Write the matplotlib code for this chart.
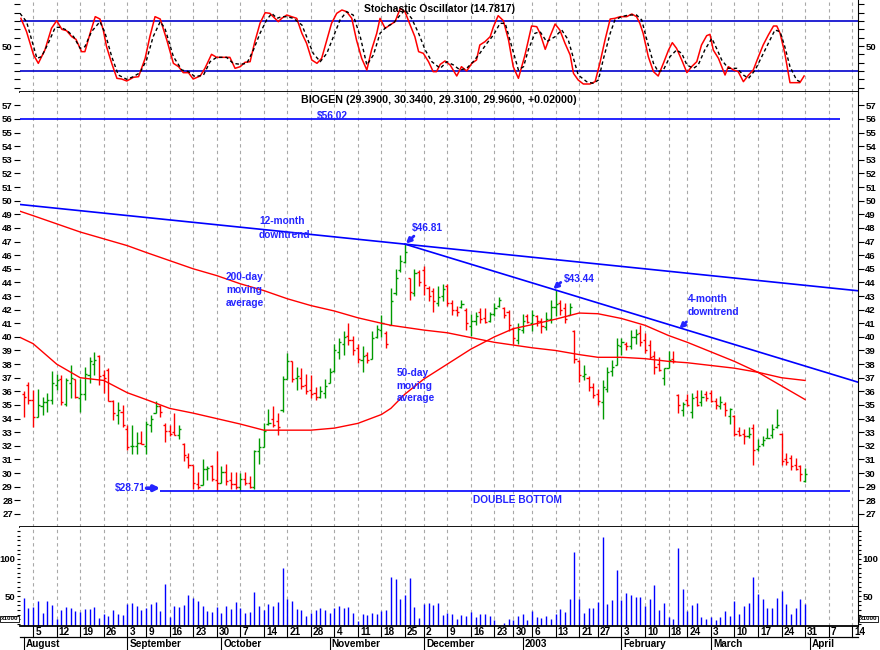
import matplotlib
matplotlib.use("Agg")
import matplotlib.pyplot as plt
import numpy as np
from matplotlib.ticker import MultipleLocator

plt.rcParams["font.family"] = ["Liberation Sans", "DejaVu Sans"]
plt.rcParams["font.weight"] = "bold"
plt.rcParams["font.size"] = 6.5

# ---- daily OHLC, Aug 1 2002 .. Mar 31 2003 (trading days) ----
opens = [35.8, 36.5, 35.4, 34.1, 34.9, 35.2, 35.4, 36.5, 36.9, 35.1,
         36.6, 36.9, 35.5, 35.8, 37.2, 38.0, 38.6, 37.2, 37.6, 35.3,
         34.3, 34.5, 33.2, 32.0, 32.0, 32.2, 32.0, 33.5, 34.4, 34.9,
         33.5, 33.1, 33.0, 32.8, 32.1, 31.2, 30.6, 29.2, 29.1, 30.3,
         30.5, 29.5, 29.3, 30.1, 29.5, 29.2, 29.0, 29.6, 29.3, 29.0,
         31.6, 31.9, 33.6, 34.0, 33.8, 34.6, 36.9, 38.2, 37.0, 37.0,
         36.5, 36.1, 35.9, 35.6, 35.9, 36.6, 37.5, 38.9, 39.5, 40.1,
         39.8, 39.2, 38.3, 38.7, 38.4, 40.0, 40.5, 40.3, 40.9, 43.2,
         44.9, 45.5, 44.3, 43.2, 44.8, 44.9, 43.6, 43.4, 42.5, 43.0,
         43.7, 42.5, 42.0, 42.2, 42.0, 40.8, 41.2, 41.8, 41.4, 41.2,
         41.7, 42.3, 42.1, 41.8, 40.6, 39.8, 40.5, 41.5, 41.0, 41.5,
         41.2, 40.7, 41.3, 42.2, 42.5, 42.1, 41.6, 40.4, 38.2, 37.1,
         37.0, 36.3, 35.8, 35.2, 36.2, 37.5, 37.9, 39.3, 39.5, 39.3,
         40.0, 40.3, 39.8, 39.4, 38.6, 38.0, 37.0, 37.7, 38.4, 35.7,
         34.6, 35.4, 34.5, 35.6, 35.2, 35.8, 35.9, 35.3, 34.9, 35.1,
         34.2, 34.2, 33.1, 32.9, 32.7, 33.3, 31.8, 32.1, 32.6, 32.8,
         33.4, 32.9, 31.0, 31.1, 30.6, 30.5, 29.39]
highs = [36.0, 36.7, 36.1, 36.2, 35.6, 35.9, 37.5, 37.3, 37.2, 37.0,
         37.9, 36.9, 36.9, 37.8, 38.5, 38.9, 38.7, 37.6, 37.7, 35.4,
         35.2, 35.0, 33.5, 33.5, 33.0, 33.1, 33.8, 34.3, 35.3, 35.0,
         33.7, 33.5, 34.4, 33.5, 32.2, 31.5, 30.6, 30.1, 31.0, 30.5,
         30.6, 31.6, 30.5, 30.7, 30.1, 30.1, 30.0, 30.1, 29.8, 31.7,
         32.6, 33.7, 34.7, 34.9, 34.4, 37.1, 38.8, 38.2, 37.8, 37.7,
         37.3, 37.2, 36.3, 36.4, 36.9, 37.7, 39.5, 39.9, 40.4, 41.0,
         40.1, 39.5, 39.3, 38.9, 40.4, 40.9, 41.6, 40.4, 43.6, 45.0,
         46.0, 46.81, 44.3, 45.0, 44.9, 45.2, 43.7, 43.57, 43.7, 43.9,
         43.9, 42.7, 42.3, 42.7, 42.1, 41.7, 41.85, 42.1, 42.1, 41.85,
         42.5, 42.96, 42.2, 42.0, 40.75, 41.0, 41.7, 41.7, 42.0, 41.6,
         41.4, 41.85, 42.7, 43.44, 42.7, 42.5, 42.5, 40.5, 38.3, 37.9,
         37.1, 36.6, 36.2, 36.8, 37.8, 38.3, 39.9, 39.9, 39.65, 40.5,
         40.6, 40.9, 40.3, 39.8, 38.96, 38.5, 37.7, 38.96, 38.96, 35.8,
         35.2, 35.8, 35.9, 36.1, 36.1, 36.0, 36.1, 35.5, 35.65, 35.2,
         34.8, 34.3, 33.4, 33.2, 33.4, 33.6, 32.5, 32.7, 33.3, 33.6,
         34.7, 32.95, 31.5, 31.35, 31.1, 30.6, 30.34]
lows = [34.1, 35.1, 33.4, 34.1, 34.3, 34.5, 35.1, 36.1, 35.0, 34.9,
        35.5, 35.5, 34.5, 35.4, 36.6, 37.2, 36.5, 35.9, 35.3, 33.9,
        33.6, 33.4, 31.7, 31.4, 31.4, 32.1, 31.4, 33.0, 34.4, 34.1,
        32.3, 32.7, 32.8, 32.5, 30.9, 30.4, 28.8, 28.8, 29.1, 29.5,
        29.4, 28.71, 29.3, 29.1, 28.8, 28.8, 28.71, 29.1, 28.9, 28.8,
        30.7, 31.9, 33.5, 33.4, 32.8, 34.5, 36.9, 36.7, 36.1, 36.2,
        35.8, 35.5, 35.4, 35.5, 35.5, 36.6, 37.4, 38.4, 38.7, 39.4,
        38.7, 38.1, 37.4, 38.1, 38.4, 39.9, 40.0, 39.2, 40.9, 43.1,
        44.8, 45.4, 42.7, 43.0, 43.7, 43.1, 42.6, 41.85, 42.3, 42.6,
        42.3, 41.6, 41.5, 42.1, 40.5, 40.1, 40.9, 41.0, 41.0, 41.1,
        41.5, 42.2, 41.36, 40.4, 39.5, 39.5, 40.3, 41.0, 40.4, 40.8,
        40.3, 40.5, 41.0, 41.5, 41.6, 41.0, 41.6, 38.1, 36.7, 36.8,
        36.0, 35.5, 35.0, 34.0, 35.97, 37.1, 37.9, 38.7, 39.0, 39.1,
        39.5, 39.3, 38.8, 38.35, 37.24, 37.5, 36.5, 37.7, 38.1, 34.4,
        34.2, 34.9, 34.06, 34.9, 34.9, 35.3, 35.2, 34.7, 34.7, 34.2,
        33.57, 32.7, 32.7, 32.1, 32.6, 30.6, 31.6, 32.0, 32.6, 32.6,
        33.3, 30.6, 30.6, 30.26, 30.26, 29.4, 29.31]
closes = [35.6, 35.4, 34.1, 35.0, 35.2, 35.4, 36.6, 36.8, 35.2, 36.8,
          37.0, 35.6, 35.8, 37.3, 38.2, 38.3, 37.1, 37.0, 35.3, 34.4,
          34.6, 33.5, 31.9, 32.0, 32.2, 32.1, 33.6, 34.0, 34.9, 34.5,
          33.1, 32.9, 32.8, 33.2, 31.3, 30.6, 29.3, 29.0, 30.3, 30.4,
          29.6, 29.3, 30.1, 29.4, 29.2, 29.0, 29.6, 29.3, 29.0, 31.6,
          31.9, 33.1, 33.7, 33.5, 33.4, 36.9, 38.2, 36.9, 37.1, 36.4,
          36.0, 35.8, 35.6, 36.0, 36.4, 37.4, 39.0, 39.6, 40.0, 39.8,
          39.0, 38.4, 38.6, 38.3, 39.9, 40.6, 41.0, 39.5, 42.6, 44.3,
          45.6, 46.2, 43.3, 44.7, 44.0, 43.8, 43.0, 42.6, 42.9, 43.5,
          42.5, 42.0, 41.8, 42.4, 41.0, 41.2, 41.5, 41.3, 41.1, 41.7,
          42.1, 42.7, 41.6, 40.9, 39.9, 40.6, 41.2, 41.1, 41.6, 41.2,
          40.8, 41.3, 42.2, 42.4, 42.0, 41.3, 42.2, 38.4, 37.2, 37.3,
          36.3, 35.7, 35.3, 36.3, 37.4, 37.8, 39.4, 39.6, 39.3, 40.0,
          40.2, 39.6, 39.0, 38.5, 37.8, 37.6, 37.7, 38.3, 38.2, 35.0,
          35.1, 35.0, 35.5, 35.0, 35.6, 35.5, 35.3, 35.0, 35.2, 34.6,
          34.7, 32.9, 32.8, 32.7, 32.9, 31.7, 32.0, 32.4, 32.6, 33.2,
          33.5, 30.9, 30.8, 30.5, 30.3, 29.94, 29.96]
# volume (x1000)
volume = [46.8, 33.3, 35.6, 43.2, 26.6, 43.2, 37.8, 18.9, 31.1, 34.7,
          33.3, 29.3, 27.9, 32.0, 32.0, 34.7, 20.7, 25.2, 23.0, 31.1,
          25.2, 24.3, 38.7, 40.1, 36.5, 31.1, 33.3, 38.7, 41.9, 29.7,
          65.8, 21.2, 36.0, 34.7, 37.8, 50.9, 46.8, 43.2, 36.0, 29.3,
          28.4, 34.7, 26.6, 36.0, 32.4, 41.4, 33.8, 26.6, 27.9, 55.0,
          36.0, 31.1, 39.2, 36.0, 41.9, 87.4, 45.5, 43.2, 32.0, 31.1,
          23.0, 27.0, 31.1, 33.3, 31.1, 26.6, 33.3, 36.0, 33.3, 34.7,
          26.6, 16.2, 25.7, 23.9, 26.6, 25.7, 29.7, 31.1, 75.2, 72.5,
          46.0, 51.3, 73.9, 34.7, 20.3, 38.7, 40.1, 37.8, 40.1, 24.3,
          26.6, 25.2, 18.9, 24.3, 23.0, 27.9, 21.2, 25.2, 25.2, 23.0,
          17.6, 9.0, 13.1, 18.5, 17.6, 23.0, 25.2, 17.6, 29.7, 21.2,
          20.7, 23.0, 18.9, 25.7, 32.0, 27.9, 45.5, 109.0, 45.5, 26.6,
          33.3, 33.3, 41.9, 129.3, 39.2, 44.6, 85.1, 44.6, 53.6, 51.3,
          48.2, 49.1, 36.5, 45.5, 64.4, 31.1, 40.1, 21.2, 18.5, 114.4,
          59.5, 29.7, 37.8, 40.1, 21.2, 18.9, 22.1, 17.6, 22.1, 29.7,
          23.0, 43.2, 25.7, 36.5, 40.1, 75.2, 52.7, 46.0, 33.3, 33.3,
          46.8, 56.8, 38.7, 25.7, 33.3, 45.5, 38.7]

# moving averages, read weekly (bar index)
ma_idx = [-1, 2, 7, 12, 17, 22, 26, 31, 36, 41, 46, 51, 56, 61, 66, 71, 76, 78,
          81, 85, 90, 95, 100, 104, 108, 113, 118, 122, 127, 132, 137, 141, 146,
          151, 156, 161, 166]
ma200 = [49.25, 48.9, 48.3, 47.7, 47.2, 46.7, 46.2, 45.6, 45.0, 44.5, 43.9, 43.4,
         42.8, 42.3, 41.9, 41.4, 41.0, 40.85, 40.7, 40.5, 40.3, 39.95, 39.6, 39.4,
         39.2, 39.0, 38.7, 38.5, 38.5, 38.4, 38.2, 38.1, 37.9, 37.7, 37.4, 37.0, 36.8]
ma50 = [40.0, 39.5, 38.0, 37.0, 36.8, 35.9, 35.4, 34.75, 34.4, 34.0, 33.6, 33.15,
        33.15, 33.15, 33.3, 33.65, 34.3, 34.75, 35.8, 36.9, 38.0, 39.1, 40.0, 40.6,
        40.9, 41.3, 41.75, 41.7, 41.35, 40.85, 40.1, 39.6, 38.9, 38.2, 37.4, 36.4, 35.4]

# stochastic %K (red) and %D (dashed)
k_idx = [-0.6, 0.6, 2.1, 3.1, 4.5, 5.9, 7.0, 8.1, 9.1, 10.2, 11.1, 12.3, 13.0, 14.1,
         15.2, 16.2, 16.9, 17.6, 18.7, 19.8, 20.8, 21.9, 23.3, 24.4, 25.8, 26.8, 27.9,
         29.0, 30.4, 31.8, 32.9, 33.9, 35.0, 36.0, 37.5, 38.5, 39.9, 41.0, 42.1, 43.8,
         44.9, 46.0, 47.0, 48.1, 49.1, 50.2, 51.3, 52.3, 53.0, 54.1, 54.8, 55.9, 56.9,
         58.0, 59.1, 60.1, 61.2, 62.3, 63.3, 64.4, 65.4, 66.5, 67.6, 68.6, 69.7, 70.7,
         71.8, 72.9, 73.9, 75.0, 75.7, 76.8, 77.8, 78.9, 80.0, 81.0, 82.1, 83.1, 83.9,
         84.9, 86.0, 87.0, 87.7, 88.5, 89.5, 90.6, 92.0, 93.0, 94.1, 95.2, 96.2, 96.9,
         98.0, 99.1, 99.8, 100.8, 101.9, 103.0, 104.0, 105.1, 106.5, 107.9, 109.0,
         109.7, 110.8, 111.8, 112.9, 113.9, 115.0, 116.1, 116.8, 117.8, 118.9, 120.3,
         121.4, 122.4, 123.5, 124.6, 125.6, 126.7, 128.1, 129.2, 130.2, 130.9, 131.6,
         132.7, 133.8, 134.8, 135.9, 137.0, 137.8, 138.7, 139.8, 140.9, 141.9, 143.0,
         144.0, 145.1, 145.8, 146.5, 147.6, 149.0, 149.7, 150.8, 151.8, 152.9, 154.0,
         155.0, 156.1, 157.1, 158.2, 159.3, 160.0, 160.7, 161.7, 162.8, 163.9, 164.9,
         165.8]
k_val = [83.2, 67.2, 39.2, 29.2, 45.2, 71.2, 80.4, 70.0, 68.4, 61.2, 58.0, 43.2, 43.2,
         65.2, 85.2, 82.4, 69.2, 49.2, 29.2, 11.2, 10.4, 8.0, 12.4, 13.2, 35.2, 61.2,
         85.2, 82.4, 57.2, 29.2, 25.2, 18.0, 18.0, 10.4, 14.0, 23.2, 40.0, 36.4, 36.4,
         36.4, 23.2, 25.2, 30.4, 31.2, 55.2, 77.2, 90.0, 89.2, 85.2, 79.2, 83.2, 87.2,
         85.2, 83.2, 65.2, 53.2, 33.2, 29.2, 35.2, 57.2, 77.2, 89.2, 93.2, 91.2, 83.2,
         57.2, 35.2, 21.2, 45.2, 65.2, 83.2, 71.2, 75.2, 79.2, 95.2, 91.2, 75.2, 61.2,
         43.2, 41.2, 31.2, 19.2, 19.2, 28.0, 32.0, 27.2, 14.0, 25.2, 20.0, 29.2, 33.2,
         51.2, 55.2, 61.2, 73.2, 86.4, 80.4, 57.2, 25.2, 11.2, 39.2, 74.0, 73.2, 65.2,
         46.0, 61.2, 76.4, 69.2, 53.2, 39.2, 17.2, 9.2, 4.4, 4.4, 7.2, 29.2, 57.2, 82.4,
         83.2, 85.2, 85.2, 88.4, 85.2, 77.2, 65.2, 37.2, 19.2, 14.0, 29.2, 45.2, 54.0,
         47.2, 33.2, 18.0, 25.2, 31.2, 51.2, 62.4, 64.0, 45.2, 35.2, 15.2, 25.2, 21.2,
         19.2, 7.2, 15.2, 21.2, 37.2, 51.2, 63.2, 74.0, 74.0, 65.2, 41.2, 6.0, 6.0, 6.0,
         14.0]
d_idx = [-0.8, 0.6, 1.7, 2.8, 3.8, 5.2, 6.7, 7.7, 9.1, 10.6, 12.0, 13.0, 14.4, 16.2,
         17.3, 18.7, 20.1, 21.9, 23.3, 24.7, 26.1, 27.5, 29.0, 30.0, 31.8, 33.6, 35.0,
         36.4, 38.2, 39.6, 41.0, 43.1, 44.5, 46.0, 47.4, 48.8, 50.2, 51.6, 52.7, 53.8,
         54.8, 55.9, 57.3, 59.1, 60.1, 61.5, 63.0, 64.4, 65.8, 67.2, 68.6, 70.0, 71.5,
         72.9, 74.3, 75.7, 77.1, 78.5, 80.0, 81.0, 82.4, 83.9, 85.3, 86.7, 88.5, 89.9,
         91.3, 92.7, 94.1, 95.5, 96.9, 98.4, 99.8, 101.2, 102.3, 103.7, 105.1, 106.2,
         107.2, 108.6, 109.7, 111.1, 112.9, 114.3, 115.7, 116.8, 117.8, 119.6, 121.0,
         122.1, 123.1, 124.6, 125.6, 127.0, 128.5, 130.2, 131.3, 132.4, 133.8, 134.8,
         135.9, 137.3, 138.7, 139.8, 140.9, 142.3, 143.3, 144.7, 146.2, 147.2, 148.3,
         149.7, 151.5, 152.9, 154.0, 155.4, 156.8, 158.2, 159.6, 160.7, 161.7, 162.8,
         164.2, 164.9]
d_val = [89.2, 79.2, 57.2, 35.2, 37.2, 53.2, 72.4, 72.4, 69.2, 61.2, 47.2, 49.2, 67.2,
         79.2, 65.2, 37.2, 15.2, 10.0, 13.2, 18.0, 33.2, 61.2, 79.2, 71.2, 37.2, 21.2,
         19.2, 13.2, 15.2, 31.2, 36.4, 36.4, 29.2, 28.0, 29.2, 45.2, 65.2, 81.2, 89.2,
         83.2, 85.2, 85.2, 83.2, 75.2, 61.2, 41.2, 31.2, 41.2, 61.2, 81.2, 91.2, 87.2,
         61.2, 27.2, 39.2, 65.2, 73.2, 77.2, 87.2, 93.2, 83.2, 65.2, 45.2, 31.2, 23.2,
         31.2, 27.2, 21.2, 23.2, 31.2, 41.2, 53.2, 63.2, 77.2, 77.2, 49.2, 21.2, 25.2,
         45.2, 65.2, 67.2, 55.2, 61.2, 69.2, 57.2, 35.2, 15.2, 7.2, 5.2, 9.2, 33.2, 65.2,
         81.2, 85.2, 87.2, 87.2, 81.2, 57.2, 29.2, 19.2, 21.2, 37.2, 45.2, 41.2, 27.2,
         23.2, 27.2, 45.2, 59.2, 47.2, 33.2, 23.2, 23.2, 15.2, 11.2, 21.2, 37.2, 53.2,
         69.2, 67.2, 49.2, 25.2, 9.2, 7.2]

# calendar axis
week_idx = [2, 7, 12, 17, 22, 26, 31, 36, 41, 46, 51, 56, 61, 66, 71, 76, 81, 85, 90,
            95, 100, 104, 108, 113, 118, 122, 127, 132, 137, 141, 146, 151, 156, 161,
            166, 171, 176]
week_lbl = ['5', '12', '19', '26', '3', '9', '16', '23', '30', '7', '14', '21', '28',
            '4', '11', '18', '25', '2', '9', '16', '23', '30', '6', '13', '21', '27',
            '3', '10', '18', '24', '3', '10', '17', '24', '31', '7', '14']
month_idx = [0, 22, 42, 65, 85, 106, 127, 146, 167]
month_lbl = ['August', 'September', 'October', 'November', 'December', '2003',
             'February', 'March', 'April']

# key levels
resist = 56.02
support = 28.71
peak1 = (81, 46.81)
peak2 = (113, 43.44)
trend12_start = 49.72

GREEN = "#009a00"
RED = "#ff0000"
BLUE = "#0000ff"
TBLUE = "#2424ff"
GRID = "#a8a8a8"

W, H = 880, 650
fig = plt.figure(figsize=(8.8, 6.5), dpi=100)


def box(top, bottom):
    return [20 / W, 1 - bottom / H, 838 / W, (bottom - top) / H]


ax_st = fig.add_axes(box(0, 92))
ax_pr = fig.add_axes(box(92, 527))
ax_vo = fig.add_axes(box(527, 626))

x_lo, x_hi = -0.79, 177.25
for ax in (ax_st, ax_pr, ax_vo):
    ax.set_xlim(x_lo, x_hi)
    ax.set_xticks([])
    for w in week_idx:
        ax.axvline(w, color=GRID, lw=0.8, ls=(0, (3, 3)), zorder=0)
    ax.spines['left'].set_visible(False)
    ax.spines['top'].set_visible(False)
    ax.spines['right'].set_linewidth(0.8)
    ax.spines['bottom'].set_linewidth(1.3)
    ax.tick_params(axis='y', which='both', left=True, right=True,
                   labelleft=True, labelright=True, direction='out',
                   length=4, width=0.8, pad=1.2, labelsize=6.8)

# ---- stochastic ----
ax_st.set_ylim(-5.2, 105.2)
ax_st.set_yticks(range(0, 101, 10))
ax_st.set_yticklabels(['50' if v == 50 else '' for v in range(0, 101, 10)])
ax_st.axhline(80, color='#0000cc', lw=1.2)
ax_st.axhline(20, color='#0000cc', lw=1.2)
ax_st.plot(k_idx, k_val, color=RED, lw=1.1)
ax_st.plot(d_idx, d_val, color='black', lw=1.0, ls=(0, (2.5, 2)))
ax_st.text(0.5, 0.9, 'Stochastic Oscillator (14.7817)', transform=ax_st.transAxes,
           ha='center', va='center', fontsize=7.5)

# ---- price ----
o = np.array(opens); hi = np.array(highs); lo = np.array(lows); c = np.array(closes)
idx = np.arange(len(c))
prev = np.r_[o[0], c[:-1]]
col = np.where(c >= prev, GREEN, RED)
ax_pr.set_ylim(26.04, 57.98)
ax_pr.set_yticks(range(27, 58))
ax_pr.vlines(idx, lo, hi, colors=col, lw=1.0)
ax_pr.hlines(o, idx - 0.45, idx, colors=col, lw=1.0)
ax_pr.hlines(c, idx, idx + 0.45, colors=col, lw=1.0)

ax_pr.plot(ma_idx, ma200, color=RED, lw=1.0)
ax_pr.plot(ma_idx, ma50, color=RED, lw=1.0)

ax_pr.hlines(resist, x_lo, 173.5, color=BLUE, lw=1.2)
ax_pr.hlines(support, 29, 175.6, color=BLUE, lw=1.2)

# 12-month downtrend through the Nov peak, 4-month through both peaks
s12 = (peak1[1] - trend12_start) / (peak1[0] - x_lo)
ax_pr.plot([x_lo, x_hi], [trend12_start, trend12_start + s12 * (x_hi - x_lo)],
           color=BLUE, lw=1.2)
s4 = (peak2[1] - peak1[1]) / (peak2[0] - peak1[0])
ax_pr.plot([peak1[0], x_hi], [peak1[1], peak1[1] + s4 * (x_hi - peak1[0])],
           color=BLUE, lw=1.2)

ax_pr.text(0.5, 0.9816, 'BIOGEN (29.3900, 30.3400, 29.3100, 29.9600, +0.02000)',
           transform=ax_pr.transAxes, ha='center', va='center', fontsize=7.7)

arrow = dict(arrowstyle='-|>', color=TBLUE, lw=2.0, mutation_scale=7,
             shrinkA=0, shrinkB=0)
ax_pr.annotate('', xy=(81.2, 46.85), xytext=(82.9, 47.4), arrowprops=arrow)
ax_pr.annotate('', xy=(112.5, 43.5), xytext=(114.1, 44.0), arrowprops=arrow)
ax_pr.annotate('', xy=(139.3, 40.6), xytext=(140.8, 41.1), arrowprops=arrow)
ax_pr.annotate('', xy=(29.0, 28.89), xytext=(26.1, 28.89),
               arrowprops=dict(arrowstyle='-|>', color=TBLUE, lw=2.6,
                               mutation_scale=8, shrinkA=0, shrinkB=0))


def label(x, y, lines, ha='left', step=0.93):
    for k, t in enumerate(lines):
        ax_pr.text(x, y - k * step, t, color=TBLUE, fontsize=7.3, ha=ha, va='center')


label(65.5, 56.2, ['$56.02'], ha='center')
label(50.0, 48.49, ['12-month', 'downtrend'], step=0.98)
label(82.4, 47.96, ['$46.81'])
label(43.0, 44.37, ['200-day', 'moving', 'average'])
label(114.8, 44.28, ['$43.44'])
label(141.0, 42.79, ['4-month', 'downtrend'], step=0.98)
label(79.2, 37.34, ['50-day', 'moving', 'average'])
label(25.9, 28.89, ['$28.71'], ha='right')
label(104.8, 28.03, ['DOUBLE BOTTOM'], ha='center')

# ---- volume ----
ax_vo.set_ylim(9.5, 143.2)
ax_vo.set_yticks([50, 100])
ax_vo.yaxis.set_minor_locator(MultipleLocator(6.25))
ax_vo.tick_params(axis='y', which='both', length=2.5, pad=0.8)
ax_vo.vlines(idx, 9.5, volume, colors=BLUE, lw=1.0)

# date rows under the volume panel
tr = ax_vo.get_xaxis_transform()
ax_vo.plot([0, 1], [-0.111, -0.111], transform=ax_vo.transAxes, color='black',
           lw=0.9, clip_on=False)
for w, t in zip(week_idx, week_lbl):
    ax_vo.plot([w, w], [0, -0.111], transform=tr, color='black', lw=0.8, clip_on=False)
    ax_vo.text(w + 0.45, -0.058, t, transform=tr, fontsize=7.2, ha='left', va='center',
               clip_on=False)
for m, t in zip(month_idx, month_lbl):
    ax_vo.plot([m, m], [-0.111, -0.25], transform=tr, color='black', lw=0.8,
               clip_on=False)
    ax_vo.text(m + 0.45, -0.185, t, transform=tr, fontsize=7.2, ha='left', va='center',
               clip_on=False)

for xf in (1 / W, 860 / W):
    fig.text(xf, 1 - 619 / H, 'x1000', fontsize=4.5, ha='left', va='center',
             bbox=dict(boxstyle='square,pad=0.15', fc='white', ec='black', lw=0.6))

fig.savefig('out.png', dpi=100)
